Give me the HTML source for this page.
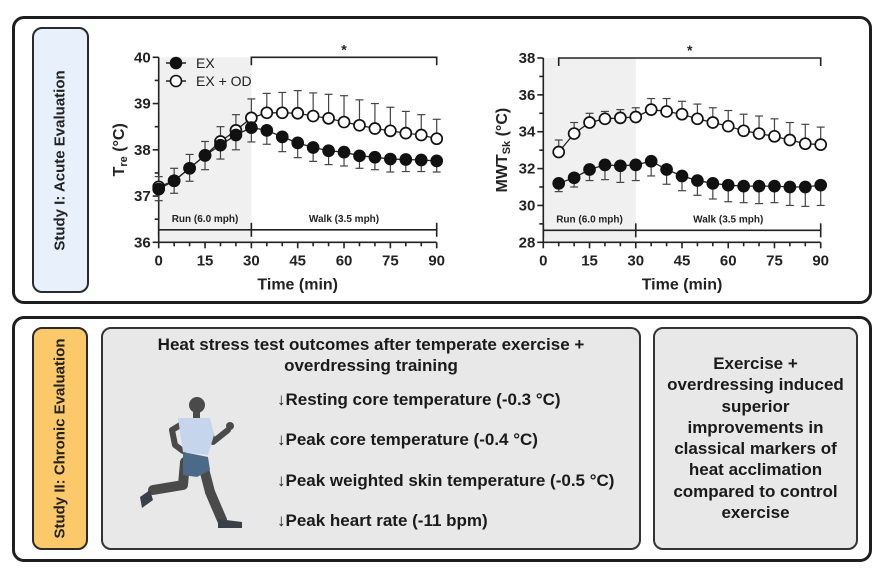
<!DOCTYPE html>
<html><head><meta charset="utf-8">
<style>
body{margin:0;width:892px;height:574px;background:#fff;font-family:"Liberation Sans",Arial,sans-serif;position:relative;overflow:hidden}
.abs{position:absolute;box-sizing:border-box}
.outer{border:3px solid #1e1e1e;border-radius:12px}
.lab{border:2px solid #2a2a2a;border-radius:10px;display:flex;align-items:center;justify-content:center}
.lab span{transform:rotate(-90deg);white-space:nowrap;font-weight:bold;font-size:15px;color:#222}
.gbox{background:#e8e8e8;border:2px solid #333;border-radius:10px}
.t{position:absolute;font-weight:bold;font-size:17px;color:#1a1a1a;white-space:nowrap}
</style></head><body>
<div class="abs outer" style="left:12px;top:16px;width:860px;height:288px"></div>
<div class="abs lab" style="left:32px;top:27px;width:57px;height:266px;background:#e8f0fb"><span>Study I: Acute Evaluation</span></div>
<div class="abs outer" style="left:12px;top:316px;width:860px;height:246px"></div>
<div class="abs lab" style="left:32px;top:327px;width:56px;height:223px;background:#fcc96a"><span>Study II: Chronic Evaluation</span></div>
<div class="abs gbox" style="left:101px;top:327px;width:540px;height:223px"></div>
<div class="abs gbox" style="left:653px;top:327px;width:205px;height:223px"></div>
<div class="t" style="left:101px;width:540px;top:334px;text-align:center;line-height:21px">Heat stress test outcomes after temperate exercise +<br>overdressing training</div>
<div class="t" style="left:277px;top:390px">↓Resting core temperature (-0.3 °C)</div>
<div class="t" style="left:277px;top:430px">↓Peak core temperature (-0.4 °C)</div>
<div class="t" style="left:277px;top:471px">↓Peak weighted skin temperature (-0.5 °C)</div>
<div class="t" style="left:277px;top:511px">↓Peak heart rate (-11 bpm)</div>
<div class="t" style="left:653px;width:205px;top:353px;text-align:center;line-height:21.3px">Exercise +<br>overdressing induced<br>superior<br>improvements in<br>classical markers of<br>heat acclimation<br>compared to control<br>exercise</div>
<svg class="abs" style="left:0;top:0" width="892" height="574">
<g stroke="#4a4a4a" stroke-linecap="round" stroke-linejoin="round" fill="none">
<polyline points="185,462 183,485 153,490" stroke-width="10"/>
<polyline points="203,465 210,492 222,520" stroke-width="10"/>
<polyline points="182,424 172,430 175,445 183,451" stroke-width="6"/>
<polyline points="208,425 213,442 228,430" stroke-width="6"/>
</g>
<path d="M140,497 L150,490 L153,500 L142,508 Z" fill="#3a3f4a"/>
<path d="M218,519 L242,522 L242,528 L218,528 Z" fill="#3a3f4a"/>
<circle cx="230" cy="426" r="4" fill="#4a4a4a"/>
<circle cx="197" cy="405" r="8" fill="#4a4a4a"/>
<rect x="193" y="410" width="7" height="9" fill="#4a4a4a"/>
<path d="M178,418 L210,418 L214,435 L208,455 L183,452 L180,432 Z" fill="#c5d5ec"/>
<path d="M183,452 L208,457 L210,470 L197,477 L183,475 Z" fill="#4a6a88"/>
</svg>
<svg class="abs" id="charts" style="left:0;top:0" width="892" height="574"></svg>
<script>
const times=[0,5,10,15,20,25,30,35,40,45,50,55,60,65,70,75,80,85,90];
const treEx=[37.15,37.33,37.6,37.88,38.1,38.32,38.48,38.42,38.28,38.15,38.05,37.98,37.95,37.87,37.84,37.8,37.79,37.78,37.76];
const treExSd=[0.25,0.27,0.28,0.31,0.3,0.32,0.31,0.3,0.32,0.32,0.3,0.3,0.3,0.27,0.27,0.28,0.26,0.25,0.24];
const treOd=[37.2,37.33,37.6,37.88,38.18,38.42,38.69,38.8,38.8,38.79,38.73,38.68,38.6,38.53,38.46,38.41,38.36,38.32,38.24];
const treOdSd=[0.22,0.27,0.3,0.3,0.32,0.34,0.41,0.42,0.44,0.49,0.5,0.52,0.57,0.55,0.54,0.51,0.47,0.44,0.42];
const skTimes=[5,10,15,20,25,30,35,40,45,50,55,60,65,70,75,80,85,90];
const skEx=[31.2,31.5,31.95,32.2,32.15,32.2,32.4,31.95,31.6,31.35,31.2,31.1,31.05,31.05,31.05,31.0,31.0,31.1];
const skExSd=[0.45,0.5,0.6,0.8,0.9,0.85,0.8,0.8,0.8,0.8,0.85,0.9,0.9,0.95,0.9,1.0,1.05,1.1];
const skOd=[32.9,33.9,34.5,34.7,34.75,34.8,35.2,35.1,34.95,34.7,34.5,34.3,34.05,33.9,33.75,33.55,33.35,33.3];
const skOdSd=[0.65,0.6,0.5,0.4,0.45,0.5,0.6,0.7,0.7,0.8,0.8,0.85,0.9,0.95,0.95,0.95,1.05,0.95];
const treTicks=[36,37,38,39,40];
const skTicks=[28,30,32,34,36,38];
const xTicks=[0,15,30,45,60,75,90];
const NS='http://www.w3.org/2000/svg';
const svg=document.getElementById('charts');
function el(tag,attrs,parent,text){const e=document.createElementNS(NS,tag);for(const k in attrs)e.setAttribute(k,attrs[k]);if(text!==undefined)e.textContent=text;(parent||svg).appendChild(e);return e;}
function chart(cfg){
  const g=el('g',{});
  
  
  const X=t=>cfg.x0+(t/90)*(cfg.x1-cfg.x0);
  const Y=v=>cfg.yb-(v-cfg.ymin)/(cfg.ymax-cfg.ymin)*(cfg.yb-cfg.yt);
  const sh=el('rect',{x:X(0),y:Y(cfg.ymax),width:X(30)-X(0),height:Y(cfg.ymin)-Y(cfg.ymax),fill:'#f0f0f0'},g);
  
  
  const ax=el('g',{stroke:'#222','stroke-width':1.6},g);
  el('line',{x1:X(0),x2:X(0),y1:Y(cfg.ymax),y2:Y(cfg.ymin)},ax);
  el('line',{x1:X(0),x2:X(90),y1:Y(cfg.ymin),y2:Y(cfg.ymin)},ax);
  for(let t=0;t<=90;t+=5)el('line',{x1:X(t),x2:X(t),y1:Y(cfg.ymin),y2:Y(cfg.ymin)+(t%15===0?6:4)},ax);
  const step=cfg.ticks[1]-cfg.ticks[0];
  for(let v=cfg.ymin;v<=cfg.ymax+1e-9;v+=step/2){const major=Math.abs((v-cfg.ymin)/step-Math.round((v-cfg.ymin)/step))<1e-6;el('line',{x1:X(0)-(major?6:4),x2:X(0),y1:Y(v),y2:Y(v)},ax);}
  cfg.ticks.forEach(v=>{const tl=el('text',{x:X(0)-8,y:Y(v)+5,'text-anchor':'end','font-size':15,'font-weight':'bold',fill:'#222'},g,v);});
  xTicks.forEach(t=>{const tl=el('text',{x:X(t),y:Y(cfg.ymin)+23,'text-anchor':'middle','font-size':15,'font-weight':'bold',fill:'#222'},g,t);});
  const xt=el('text',{x:(X(0)+X(90))/2,y:Y(cfg.ymin)+47,'text-anchor':'middle','font-size':16,'font-weight':'bold',fill:'#222'},g,'Time (min)');
  
  const yt=el('text',{transform:`translate(${cfg.ytx},${(Y(cfg.ymin)+Y(cfg.ymax))/2}) rotate(-90)`,'text-anchor':'middle','font-size':16,'font-weight':'bold',fill:'#222'},g);
  
  el('tspan',{},yt,cfg.ylab[0]);el('tspan',{'font-size':11,dy:3},yt,cfg.ylab[1]);el('tspan',{dy:-3},yt,' (°C)');
  const pb=el('g',{stroke:'#222','stroke-width':1.6},g);
  
  const py=Y(cfg.phaseV);
  el('line',{x1:X(0),x2:X(90),y1:py,y2:py},pb);
  [0,30,90].forEach(t=>el('line',{x1:X(t),x2:X(t),y1:py-7,y2:py+7},pb));
  el('text',{x:X(15),y:py-8,'text-anchor':'middle','font-size':10,'font-weight':'bold',fill:'#222'},g,'Run (6.0 mph)');
  el('text',{x:X(60),y:py-8,'text-anchor':'middle','font-size':10,'font-weight':'bold',fill:'#222'},g,'Walk  (3.5 mph)');
  const br=el('g',{stroke:'#222','stroke-width':1.6,fill:'none'},g);
  
  const by=Y(cfg.ymax);
  el('polyline',{points:`${X(cfg.sigFrom)},${by+8} ${X(cfg.sigFrom)},${by} ${X(90)},${by} ${X(90)},${by+8}`},br);
  el('text',{x:(X(cfg.sigFrom)+X(90))/2,y:by-3,'text-anchor':'middle','font-size':14,'font-weight':'bold',fill:'#222'},g,'*');
  cfg.series.forEach(s=>{
    const sg=el('g',{},g);
    
    s.t.forEach((t,i)=>{const dir=s.up?1:-1;const y2=Y(s.v[i]+dir*s.sd[i]);
      el('line',{x1:X(t),x2:X(t),y1:Y(s.v[i]),y2:y2,stroke:'#444','stroke-width':1.2},sg);
      el('line',{x1:X(t)-4,x2:X(t)+4,y1:y2,y2:y2,stroke:'#444','stroke-width':1.2},sg);});
    el('polyline',{points:s.t.map((t,i)=>X(t)+','+Y(s.v[i])).join(' '),fill:'none',stroke:'#222','stroke-width':1.3},sg);
    s.t.forEach((t,i)=>{const c=el('circle',{cx:X(t),cy:Y(s.v[i]),r:5.5,fill:s.fill,stroke:'#111','stroke-width':1.7},sg);
      });
  });
  if(cfg.legend){
    const lg=el('g',{},g);
    [['EX','#111',63],['EX + OD','#fff',81]].forEach(([n,f,y])=>{
      const e=el('g',{},lg);
      el('line',{x1:166,x2:186,y1:y,y2:y,stroke:'#222','stroke-width':1.5},e);
      el('circle',{cx:176,cy:y,r:5.5,fill:f,stroke:'#111','stroke-width':1.6},e);
      el('text',{x:196,y:y+5,'font-size':14,fill:'#222'},e,n);});
  }
}
chart({name:'rectal-temperature-chart',x0:158.7,x1:436.7,yt:57.3,yb:242.3,ymin:36,ymax:40,ticks:treTicks,ytx:124,ylab:['T','re'],phaseV:36.27,sigFrom:30,legend:true,
  series:[{name:'series-ex-od',t:times,v:treOd,sd:treOdSd,up:true,fill:'#fff'},{name:'series-ex',t:times,v:treEx,sd:treExSd,up:false,fill:'#111'}]});
chart({name:'skin-temperature-chart',x0:543.3,x1:820.7,yt:58,yb:242.3,ymin:28,ymax:38,ticks:skTicks,ytx:507,ylab:['MWT','Sk'],phaseV:28.65,sigFrom:5,legend:false,
  series:[{name:'series-ex-od',t:skTimes,v:skOd,sd:skOdSd,up:true,fill:'#fff'},{name:'series-ex',t:skTimes,v:skEx,sd:skExSd,up:false,fill:'#111'}]});
</script>
</body></html>
